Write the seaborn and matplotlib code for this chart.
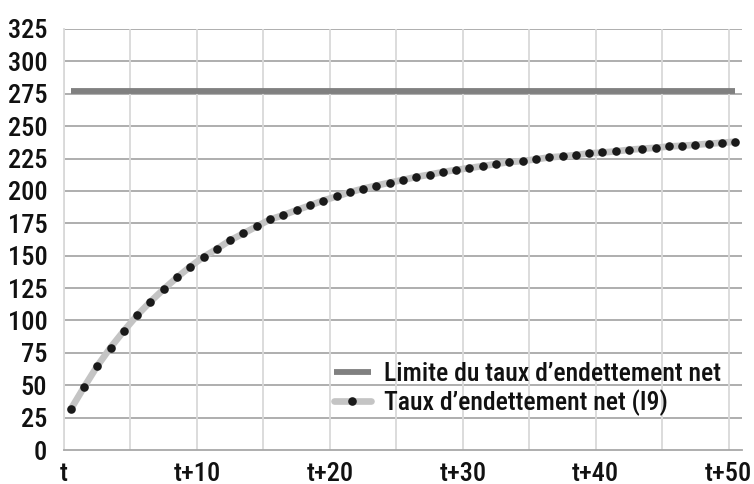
import matplotlib
matplotlib.use("Agg")
import matplotlib.pyplot as plt
import seaborn as sns
import pandas as pd
import numpy as np

# Series values (t .. t+50)
periods = [f"t+{i}" if i else "t" for i in range(51)]
taux_endettement = [
    31.3, 48.4, 64.8, 79.1, 91.9, 104.0, 114.5, 124.2, 133.2, 141.6,
    149.1, 155.2, 161.9, 167.2, 172.6, 178.0, 181.3, 185.2, 188.8, 192.6,
    195.7, 199.0, 201.8, 204.1, 206.4, 208.5, 210.8, 212.6, 214.6, 216.2,
    217.7, 219.2, 220.8, 222.3, 223.1, 224.4, 225.9, 226.7, 227.7, 229.0,
    229.7, 230.5, 231.8, 232.6, 233.3, 234.3, 234.9, 235.6, 236.4, 237.2,
    238.0,
]
limite = [277.0] * 51

y_ticks = list(range(0, 326, 25))
x_labels = ["t", "t+10", "t+20", "t+30", "t+40", "t+50"]

label_limite = "Limite du taux d\u2019endettement net"
label_taux = "Taux d\u2019endettement net (I9)"

df = pd.DataFrame({
    "idx": np.arange(len(periods)),
    "periode": periods,
    "limite": limite,
    "taux": taux_endettement,
})

sns.set_theme(style="white")
plt.rcParams["font.family"] = ["Roboto Condensed", "Liberation Sans", "DejaVu Sans"]

fig = plt.figure(figsize=(7.54, 4.84), dpi=100)
W, H = 754, 484
ax = fig.add_axes([64 / W, (H - 450) / H, (742 - 64) / W, (450 - 29) / H])

sns.lineplot(data=df, x="idx", y="limite", ax=ax, color="#808080", linewidth=4.2,
             label=label_limite, solid_capstyle="butt", zorder=3)
sns.lineplot(data=df, x="idx", y="taux", ax=ax, color="#c4c4c4", linewidth=4.8,
             marker="o", markersize=6.2, markerfacecolor="#1a1a1a",
             markeredgecolor="#1a1a1a", markeredgewidth=0,
             label=label_taux, zorder=4)

ax.set_xlim(-0.5, 50.5)
ax.set_ylim(0, 325)

# gridlines: horizontal every 25, vertical every 5 periods
ax.set_yticks(y_ticks)
ax.set_yticklabels([str(v) for v in y_ticks])
ax.set_xticks(np.arange(-0.5, 50, 10))
ax.set_xticklabels(x_labels)

for v in y_ticks[1:]:
    ax.axhline(v, color="#a8a8a8", linewidth=1.3, zorder=1)
for v in np.arange(-0.5, 50, 5):
    ax.axvline(v, color="#d9d9d9", linewidth=1.3, zorder=1)

for s in ["top", "right"]:
    ax.spines[s].set_visible(False)
ax.spines["left"].set_color("#d9d9d9")
ax.spines["left"].set_linewidth(1.3)
ax.spines["bottom"].set_color("#a8a8a8")
ax.spines["bottom"].set_linewidth(1.3)

ax.tick_params(axis="both", which="both", length=0, labelsize=19,
               labelcolor="#111111")
ax.tick_params(axis="y", pad=12)
ax.tick_params(axis="x", pad=8.5)
for lab in ax.get_xticklabels() + ax.get_yticklabels():
    lab.set_fontweight("medium")

ax.set_xlabel("")
ax.set_ylabel("")

leg = ax.legend(loc="center left", bbox_to_anchor=(313 / W, (H - 389) / H),
                bbox_transform=fig.transFigure, frameon=False,
                prop={"size": 18.5, "weight": "medium"}, handlelength=1.45,
                handletextpad=0.5, labelspacing=0.15, borderpad=0.3)
for t in leg.get_texts():
    t.set_color("#111111")

fig.savefig("out.png", dpi=100)
